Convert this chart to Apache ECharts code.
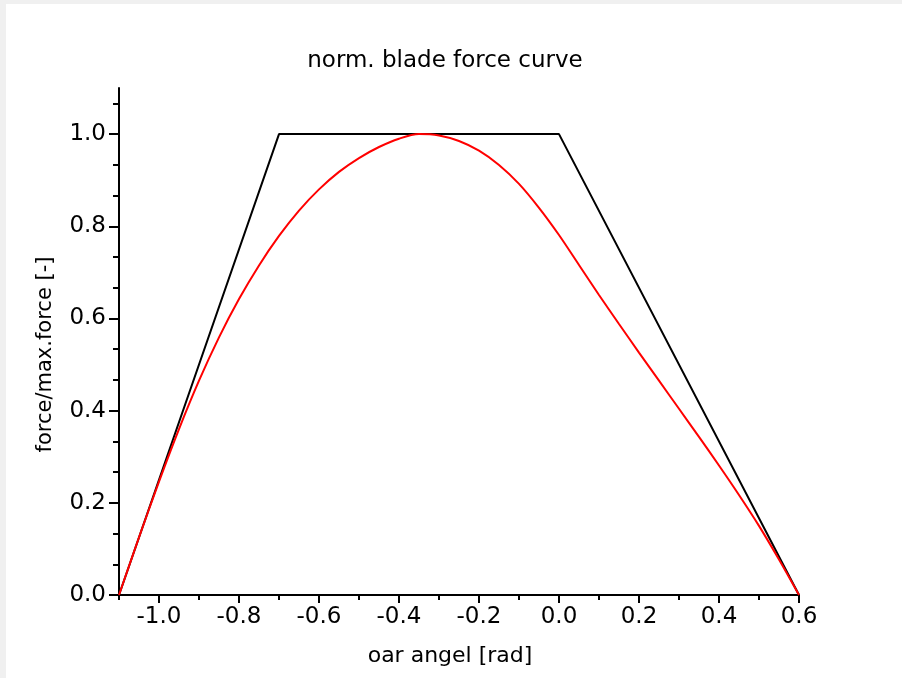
<!DOCTYPE html>
<html>
<head>
<meta charset="utf-8">
<script src="https://cdn.jsdelivr.net/npm/echarts@6/dist/echarts.min.js"></script>
<style>
html,body{margin:0;padding:0;background:#f0f0f0;width:902px;height:678px;overflow:hidden;}
#chart{position:absolute;left:6px;top:4px;width:896px;height:674px;background:#ffffff;}
</style>
</head>
<body>
<div id="chart"></div>
<script>
// Black trapezoid (idealised) force curve: [oar angle, force]
const trapX = [-1.1, -0.7, 0.0, 0.6];
const trapY = [0.0, 1.0, 1.0, 0.0];

// Red force curve
const curveX = [-1.1, -1.05, -1.0, -0.95, -0.9, -0.85, -0.8, -0.75, -0.7, -0.65, -0.6, -0.55, -0.5, -0.45, -0.4, -0.35,
  -0.3, -0.25, -0.2, -0.15, -0.1, -0.05, 0.0, 0.05, 0.1, 0.15, 0.2, 0.25, 0.3, 0.35, 0.4, 0.45, 0.5, 0.55, 0.6];
const curveY = [0.0, 0.125, 0.246, 0.360, 0.465, 0.559, 0.642, 0.715, 0.779, 0.834, 0.880, 0.918, 0.948, 0.972, 0.990, 1.0,
  0.997, 0.985, 0.964, 0.933, 0.892, 0.840, 0.781, 0.716, 0.651, 0.588, 0.526, 0.465, 0.404, 0.343, 0.281, 0.217, 0.150, 0.077, 0.0];

// Axis ticks
const xMajorTicks = [-1.0, -0.8, -0.6, -0.4, -0.2, 0.0, 0.2, 0.4, 0.6];
const xMinorTicks = [-1.1, -0.9, -0.7, -0.5, -0.3, -0.1, 0.1, 0.3, 0.5];
const yMajorTicks = [0.0, 0.2, 0.4, 0.6, 0.8, 1.0];
const yMinorTicks = [1/15, 2/15, 4/15, 5/15, 7/15, 8/15, 10/15, 11/15, 13/15, 14/15, 16/15];

const titleText = 'norm. blade force curve';
const xName = 'oar angel [rad]';
const yName = 'force/max.force [-]';

const FONT = 'DejaVu Sans';
const FS = 23;
const chart = echarts.init(document.getElementById('chart'), null, {renderer: 'canvas'});

const zip = (xs, ys) => xs.map((x, i) => [x, ys[i]]);

const xBase = {type: 'value', min: -1.1, max: 0.6, position: 'bottom', splitLine: {show: false}};
const yBase = {type: 'value', min: 0, max: 1.1, position: 'left', splitLine: {show: false}};

chart.setOption({
  animation: false,
  backgroundColor: '#ffffff',
  title: {
    text: titleText, left: 434, top: 41, textAlign: 'center',
    textStyle: {fontFamily: FONT, fontSize: FS, fontWeight: 'normal', color: '#000'}
  },
  grid: {left: 113, right: 103, top: 84, bottom: 83, containLabel: false},
  xAxis: [
    Object.assign({}, xBase, {
      name: xName, nameLocation: 'middle', nameGap: 50,
      nameTextStyle: {fontFamily: FONT, fontSize: 22, color: '#000', padding: [0, 18, 0, 0]},
      axisLine: {show: true, onZero: false, lineStyle: {color: '#000', width: 2}},
      axisTick: {show: true, inside: false, length: 8, customValues: xMajorTicks, lineStyle: {color: '#000', width: 2}},
      axisLabel: {show: true, margin: 11, customValues: xMajorTicks, fontFamily: FONT, fontSize: FS, color: '#000',
        formatter: v => v.toFixed(1)}
    }),
    Object.assign({}, xBase, {
      axisLine: {show: false, onZero: false},
      axisTick: {show: true, length: 5, customValues: xMinorTicks, lineStyle: {color: '#000', width: 2}},
      axisLabel: {show: false}
    })
  ],
  yAxis: [
    Object.assign({}, yBase, {
      name: yName, nameLocation: 'middle', nameGap: 63, nameRotate: 90,
      nameTextStyle: {fontFamily: FONT, fontSize: 21, color: '#000', padding: [0, 26, 0, 0]},
      axisLine: {show: true, onZero: false, lineStyle: {color: '#000', width: 2}},
      axisTick: {show: true, length: 10, customValues: yMajorTicks, lineStyle: {color: '#000', width: 2}},
      axisLabel: {show: true, margin: 13, customValues: yMajorTicks, fontFamily: FONT, fontSize: FS, color: '#000',
        formatter: v => v.toFixed(1)}
    }),
    Object.assign({}, yBase, {
      axisLine: {show: false, onZero: false},
      axisTick: {show: true, length: 6, customValues: yMinorTicks, lineStyle: {color: '#000', width: 2}},
      axisLabel: {show: false}
    })
  ],
  series: [
    {
      type: 'line', xAxisIndex: 0, yAxisIndex: 0, data: zip(trapX, trapY),
      showSymbol: false, symbol: 'none', lineStyle: {color: '#000', width: 2}, z: 2
    },
    {
      type: 'line', xAxisIndex: 0, yAxisIndex: 0, data: zip(curveX, curveY),
      showSymbol: false, symbol: 'none', smooth: 0.3, lineStyle: {color: '#ff0000', width: 2}, z: 3
    }
  ]
});
</script>
</body>
</html>
